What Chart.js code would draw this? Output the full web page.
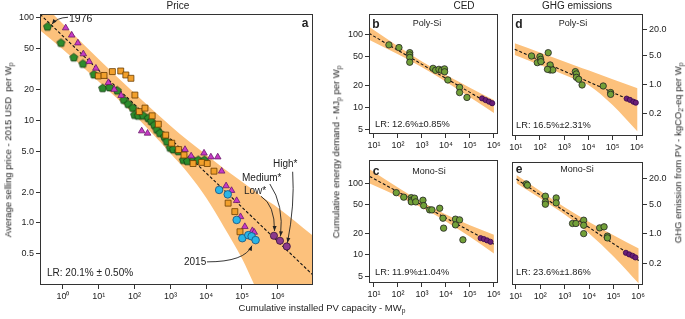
<!DOCTYPE html>
<html>
<head>
<meta charset="utf-8">
<script src="https://cdn.jsdelivr.net/npm/chart.js@4.4.0/dist/chart.umd.min.js"></script>
<style>
html, body { margin: 0; padding: 0; background: #fff; }
#wrap { position: relative; width: 685px; height: 319px; overflow: hidden;
        font-family: "Liberation Sans", Arial, Helvetica, sans-serif; color: #222; }
#wrap canvas { position: absolute; left: 0; top: 0; }
.t { position: absolute; white-space: nowrap; line-height: 1; z-index: 5; }
.c { transform: translate(-50%, -50%); }
.l { transform: translateY(-50%); }
.v { transform: translate(-50%, -50%) rotate(-90deg); }
.b { font-weight: bold; font-size: 12px; }
sub { font-size: 70%; vertical-align: -0.3em; line-height: 0; }
</style>
</head>
<body>
<div id="wrap">
  <canvas id="pa" width="685" height="319"></canvas>
  <canvas id="pb" width="685" height="319"></canvas>
  <canvas id="pc" width="685" height="319"></canvas>
  <canvas id="pd" width="685" height="319"></canvas>
  <canvas id="pe" width="685" height="319"></canvas>

  <div class="t c" style="left:178px;top:6px;font-size:10px">Price</div>
  <div class="t c" style="left:464px;top:6px;font-size:10px">CED</div>
  <div class="t c" style="left:577px;top:6px;font-size:10px">GHG emissions</div>

  <div class="t c b" style="left:305px;top:23px">a</div>
  <div class="t c b" style="left:376px;top:24px">b</div>
  <div class="t c b" style="left:376px;top:171px">c</div>
  <div class="t c b" style="left:519px;top:24px">d</div>
  <div class="t c b" style="left:519px;top:169px">e</div>

  <div class="t c" style="left:427px;top:23px;font-size:9px">Poly-Si</div>
  <div class="t c" style="left:429px;top:171px;font-size:9px">Mono-Si</div>
  <div class="t c" style="left:573px;top:23px;font-size:9px">Poly-Si</div>
  <div class="t c" style="left:577px;top:169px;font-size:9px">Mono-Si</div>

  <div class="t l" style="left:47px;top:273px;font-size:10px">LR: 20.1% ± 0.50%</div>
  <div class="t l" style="left:375px;top:125px;font-size:9.3px">LR: 12.6%±0.85%</div>
  <div class="t l" style="left:375px;top:273px;font-size:9.3px">LR: 11.9%±1.04%</div>
  <div class="t l" style="left:516px;top:126px;font-size:9.3px">LR: 16.5%±2.31%</div>
  <div class="t l" style="left:516px;top:273px;font-size:9.3px">LR: 23.6%±1.86%</div>

  <div class="t l" style="left:69px;top:18px;font-size:10.5px">1976</div>
  <div class="t l" style="left:273px;top:164px;font-size:10px">High*</div>
  <div class="t l" style="left:242px;top:178px;font-size:10px">Medium*</div>
  <div class="t l" style="left:244px;top:191px;font-size:10px">Low*</div>
  <div class="t l" style="left:184px;top:262px;font-size:10px">2015</div>

  <div class="t c" style="left:322px;top:308px;font-size:9.5px">Cumulative installed PV capacity - MW<sub>p</sub></div>
  <div class="t v" style="left:8px;top:150px;font-size:9.5px">Average selling price - 2015 USD&nbsp; per W<sub>p</sub></div>
  <div class="t v" style="left:336px;top:152px;font-size:9.5px">Cumulative energy demand - MJ<sub>p</sub> per W<sub>p</sub></div>
  <div class="t v" style="left:678px;top:153px;font-size:9.5px">GHG emission from PV - kgCO<sub>2</sub>-eq per W<sub>p</sub></div>
</div>

<script>
const FONT = '"Liberation Sans", Arial, Helvetica, sans-serif';
Chart.defaults.font.family = FONT;
Chart.defaults.color = '#222';

// ---------- panel a: average selling price vs cumulative capacity (MW, USD/Wp)
const greenCap = [0.37, 0.88, 2.0, 3.6, 7.3, 12.8, 20, 33, 50, 66, 89, 100, 126, 174, 240, 290, 355, 420, 510, 680, 800, 980, 1200, 1660, 2300, 3000, 4400, 6000, 8900];
const greenPrice = [82, 57, 41, 35.6, 28, 20.6, 21, 19.5, 15.8, 14.4, 13.2, 11.3, 11.1, 11.1, 10.5, 9.8, 9.0, 8.1, 7.5, 6.9, 6.2, 5.4, 5.2, 5.0, 4.1, 4.0, 4.05, 4.1, 4.1];
const magentaCap = [1.19, 1.75, 2.6, 3.7, 5.4, 8.3, 12.8, 18.5, 27, 42, 158, 230, 2560, 3800, 8700, 13500, 21000, 27000, 36000, 51000, 71000, 91000, 120000, 195000, 220000];
const magentaPrice = [80, 68, 57, 44.6, 37.5, 32.3, 27.2, 23.4, 20.1, 17.5, 7.9, 7.5, 5.2, 4.5, 4.8, 4.4, 4.4, 3.2, 2.3, 2.07, 1.65, 1.15, 0.92, 0.84, 0.81];
const orangeCap = [9.7, 14, 24, 41, 57, 79, 102, 135, 195, 310, 460, 740, 1090, 1700, 2400, 4300, 7500, 10700, 16500, 41000, 63000, 88000];
const orangePrice = [27.2, 27.5, 30, 30.4, 27.8, 25.8, 17.7, 12.2, 13.2, 11.1, 9.2, 7.2, 6.0, 5.2, 4.6, 3.8, 3.9, 3.8, 3.2, 1.56, 1.29, 0.82];
const cyanCap = [23000, 40000, 71000, 102000, 150000, 186000, 240000];
const cyanPrice = [2.1, 1.9, 1.07, 0.71, 0.76, 0.74, 0.68];
const scenarioCap = [780000, 1150000, 1780000];   // Low*, Medium*, High*
const scenarioPrice = [0.75, 0.67, 0.59];
const priceFitCap = [0.23, 9.6e6];
const priceFitVal = [108.6, 0.31];
const priceBandCap = [0.2, 1, 10, 100, 1000, 3162, 1e4, 31623, 1e5, 2.5e5, 4e5, 1e6, 1e7];
const priceBandHi = [153, 87.5, 39.6, 18.4, 8.9, 6.35, 4.63, 3.38, 2.52, 1.99, 1.75, 1.41, 0.74];
const priceBandLo = [78.7, 49.2, 23.9, 11.3, 4.79, 3.04, 1.76, 0.91, 0.449, 0.228, 0.17, 0.066, 0.01];

// ---------- panel b: CED poly-Si (MJ/Wp)
const cedPolyCap = [42, 110, 310, 310, 310, 310, 2900, 3700, 5100, 6600, 8700, 8800, 12000, 37000, 37000, 75000];
const cedPolyVal = [73, 67, 57, 53, 49, 42, 34.6, 32.5, 33.5, 32.5, 34, 31, 23.9, 18.9, 16, 13.7];
const cedPolyFutCap = [3.2e5, 4.5e5, 6.2e5, 8.5e5];
const cedPolyFutVal = [13.3, 12.6, 12, 11.4];
const cedPolyFitCap = [6.17, 1e6];
const cedPolyFitVal = [105.4, 10.3];
const cedPolyBandCap = [6.17, 100, 1000, 3162, 1e4, 1e5, 1e6];
const cedPolyBandHi = [129.7, 69.7, 43.1, 34.4, 27.9, 18.7, 12.6];
const cedPolyBandLo = [85.7, 54.1, 35.8, 28.6, 22.6, 13.8, 8.36];

// ---------- panel c: CED mono-Si
const cedMonoCap = [85, 174, 360, 360, 360, 490, 550, 1100, 1180, 2100, 2600, 5500, 7500, 8000, 25000, 25000, 37000, 51000];
const cedMonoVal = [74, 64, 63, 58, 55, 62, 55, 58, 48.8, 42.5, 42.5, 44.8, 32.5, 23.6, 31.5, 26.2, 30.8, 16.2];
const cedMonoFutCap = [2.8e5, 3.8e5, 5.2e5, 7.2e5];
const cedMonoFutVal = [17.1, 16.6, 15.9, 15.2];
const cedMonoFitCap = [6.6, 1e6];
const cedMonoFitVal = [125, 14.1];
const cedMonoBandCap = [6.6, 100, 1000, 3162, 1e4, 1e5, 1e6];
const cedMonoBandHi = [157, 87.3, 54.7, 44.3, 36.7, 25.8, 19.0];
const cedMonoBandLo = [99.3, 66.2, 45.5, 36.8, 29.2, 17.9, 10.4];

// ---------- panel d: GHG poly-Si (kgCO2-eq/Wp)
const ghgPolyCap = [45, 78, 100, 107, 110, 220, 265, 265, 340, 205, 2900, 3200, 3200, 4000, 5500, 41000, 83000, 83000];
const ghgPolyVal = [4.75, 3.29, 4.58, 3.95, 3.47, 5.7, 2.89, 2.19, 2.19, 2.27, 2.0, 1.76, 1.46, 1.31, 0.957, 0.905, 0.63, 0.57];
const ghgPolyFutCap = [3.8e5, 5.2e5, 7.2e5, 9.1e5];
const ghgPolyFutVal = [0.45, 0.42, 0.38, 0.36];
const ghgPolyFitCap = [9.1, 1.07e6];
const ghgPolyFitVal = [6.87, 0.346];
const ghgPolyBandCap = [9.1, 100, 1000, 3162, 1e4, 1e5, 1.07e6];
const ghgPolyBandHi = [9.57, 5.74, 3.52, 2.75, 2.15, 1.32, 0.796];
const ghgPolyBandLo = [5.02, 2.88, 1.68, 1.28, 0.955, 0.316, 0.0726];

// ---------- panel e: GHG mono-Si
const ghgMonoCap = [27, 30, 163, 163, 163, 450, 450, 2100, 2900, 6000, 6000, 6000, 27000, 41000, 56000, 56000];
const ghgMonoVal = [15, 14, 7.7, 5.65, 4.98, 7.0, 5.35, 1.75, 1.75, 2.09, 1.59, 1.01, 1.38, 1.46, 0.88, 0.80];
const ghgMonoFutCap = [3.2e5, 4.4e5, 6.0e5, 7.8e5];
const ghgMonoFutVal = [0.356, 0.326, 0.303, 0.277];
const ghgMonoFitCap = [10.7, 1.07e6];
const ghgMonoFitVal = [19.5, 0.234];
const ghgMonoBandCap = [10.7, 100, 1000, 1e4, 1e5, 1.07e6];
const ghgMonoBandHi = [24.5, 10.2, 4.2, 1.90, 0.923, 0.451];
const ghgMonoBandLo = [15.5, 6.87, 2.84, 1.02, 0.292, 0.0675];

// ---------- ticks
const xTicksA = [1, 10, 100, 1e3, 1e4, 1e5, 1e6];
const xLabelsA = ['10⁰', '10¹', '10²', '10³', '10⁴', '10⁵', '10⁶'];
const yTicksA = [0.5, 1, 2, 5, 10, 20, 50, 100];
const yLabelsA = ['0.5', '1.0', '2.0', '5.0', '10', '20', '50', '100'];
const xTicksS = [10, 100, 1e3, 1e4, 1e5, 1e6];
const xLabelsS = ['10¹', '10²', '10³', '10⁴', '10⁵', '10⁶'];
const yTicksCed = [5, 10, 20, 50, 100];
const yLabelsCed = ['5', '10', '20', '50', '100'];
const yTicksGhg = [0.2, 1, 5, 20];
const yLabelsGhg = ['0.2', '1.0', '5.0', '20.0'];

// arrows in panel a: [start, control, end] in data units
const arrowPaths = [
    [[1.38, 101.6], [0.68, 101], [0.49, 87]],          // 1976
    [[2.6e6, 3.16], [3.0e6, 1.5], [1.86e6, 0.64]],     // High*
    [[6.0e5, 2.4], [1.5e6, 1.5], [1.19e6, 0.74]],      // Medium*
    [[3.4e5, 1.82], [8.3e5, 1.5], [8.1e5, 0.835]],     // Low*
    [[1.05e4, 0.417], [1.2e5, 0.417], [1.9e5, 0.6]]    // 2015
];

const BAND = 'rgb(252,193,124)';
const zip = (xs, ys) => xs.map((x, i) => ({ x, y: ys[i] }));

function pentagon(r, fill, stroke) {
    const c = document.createElement('canvas');
    const s = Math.ceil(r * 2 + 2);
    c.width = s; c.height = s;
    const g = c.getContext('2d');
    g.beginPath();
    for (let i = 0; i < 5; i++) {
        const a = -Math.PI / 2 + i * 2 * Math.PI / 5;
        g.lineTo(s / 2 + r * Math.cos(a), s / 2 + r * Math.sin(a));
    }
    g.closePath();
    g.fillStyle = fill; g.fill();
    g.lineWidth = 0.8; g.strokeStyle = stroke; g.stroke();
    return c;
}

function pts(xs, ys, style, radius, fill, stroke) {
    return { data: zip(xs, ys), pointStyle: style, pointRadius: radius,
             pointBackgroundColor: fill, pointBorderColor: stroke, pointBorderWidth: 0.8 };
}
function fitLine(xs, ys) {
    return { type: 'line', data: zip(xs, ys), borderColor: '#111', borderWidth: 1.1,
             borderDash: [3, 2], pointRadius: 0, fill: false };
}
function band(xs, lo, hi) {
    return [
        { type: 'line', data: zip(xs, lo), borderColor: 'rgba(0,0,0,0)', borderWidth: 0,
          pointRadius: 0, fill: false, cubicInterpolationMode: 'monotone' },
        { type: 'line', data: zip(xs, hi), borderColor: 'rgba(0,0,0,0)', borderWidth: 0,
          pointRadius: 0, fill: '-1', backgroundColor: BAND, cubicInterpolationMode: 'monotone' }
    ];
}

function logAxis(pos, min, max, ticks, labels, size) {
    return {
        type: 'logarithmic', position: pos, min, max,
        afterBuildTicks: s => { s.ticks = ticks.map(v => ({ value: v })); },
        afterFit: s => { if (pos === 'bottom') s.height = size; else s.width = size; },
        ticks: { autoSkip: false, maxRotation: 0, minRotation: 0, padding: 2, color: '#222',
                 font: { size: 9 }, callback: (v, i) => labels[i] },
        grid: { drawOnChartArea: false, tickLength: 4, color: '#333', lineWidth: 1 },
        border: { display: false }
    };
}

const framePlugin = {
    id: 'frame',
    afterDraw(chart) {
        const { ctx, chartArea: a } = chart;
        ctx.save();
        ctx.strokeStyle = '#333';
        ctx.lineWidth = 1;
        ctx.strokeRect(Math.round(a.left) + 0.5, Math.round(a.top) + 0.5,
                       Math.round(a.right - a.left) - 1, Math.round(a.bottom - a.top) - 1);
        ctx.restore();
    }
};

const arrowPlugin = {
    id: 'arrows',
    afterDatasetsDraw(chart) {
        const { ctx, scales: { x, y } } = chart;
        ctx.save();
        ctx.strokeStyle = '#222';
        ctx.fillStyle = '#222';
        ctx.lineWidth = 0.9;
        arrowPaths.forEach(p => {
            const [s, c, e] = p.map(q => [x.getPixelForValue(q[0]), y.getPixelForValue(q[1])]);
            ctx.beginPath();
            ctx.moveTo(s[0], s[1]);
            ctx.quadraticCurveTo(c[0], c[1], e[0], e[1]);
            ctx.stroke();
            const ang = Math.atan2(e[1] - c[1], e[0] - c[0]);
            const L = 5, W = 2;
            ctx.beginPath();
            ctx.moveTo(e[0], e[1]);
            ctx.lineTo(e[0] - L * Math.cos(ang) + W * Math.sin(ang), e[1] - L * Math.sin(ang) - W * Math.cos(ang));
            ctx.lineTo(e[0] - L * Math.cos(ang) - W * Math.sin(ang), e[1] - L * Math.sin(ang) + W * Math.cos(ang));
            ctx.closePath();
            ctx.fill();
        });
        ctx.restore();
    }
};

// box = plot frame in page pixels; yPos = side of the value axis
function panel(id, box, xAxis, yAxis, yPos, datasets, extra) {
    const ySize = 30, xSize = 20;
    const padding = {
        left: box.left - (yPos === 'left' ? ySize : 0),
        right: 685 - box.right - (yPos === 'right' ? ySize : 0),
        top: box.top,
        bottom: 319 - box.bottom - xSize
    };
    return new Chart(document.getElementById(id), {
        type: 'scatter',
        data: { datasets },
        options: {
            responsive: false, animation: false, events: [], devicePixelRatio: 1,
            layout: { padding },
            plugins: { legend: { display: false }, tooltip: { enabled: false } },
            scales: {
                x: logAxis('bottom', xAxis[0], xAxis[1], xAxis[2], xAxis[3], xSize),
                y: logAxis(yPos, yAxis[0], yAxis[1], yAxis[2], yAxis[3], ySize)
            }
        },
        plugins: [framePlugin].concat(extra || [])
    });
}

const PENT = pentagon(4.2, '#2c8c2c', '#143814');
const GREEN_S = '#72a038', PURPLE_S = '#6a1f78';

panel('pa', { left: 40, top: 14, right: 313, bottom: 285 },
    [0.228, 9.62e6, xTicksA, xLabelsA], [0.248, 109.4, yTicksA, yLabelsA], 'left', [
    pts(scenarioCap, scenarioPrice, 'circle', 3.6, '#8c3a8c', '#3a103a'),
    pts(cyanCap, cyanPrice, 'circle', 3.8, '#2bb5e6', '#1b4d78'),
    pts(orangeCap, orangePrice, 'rect', 4.2, '#f2a02c', '#6b3e00'),
    pts(magentaCap, magentaPrice, 'triangle', 3.8, '#c63ac6', '#6a1a6a'),
    pts(greenCap, greenPrice, PENT, 4, '#2c8c2c', '#143814'),
    fitLine(priceFitCap, priceFitVal),
    ...band(priceBandCap, priceBandLo, priceBandHi)
], [arrowPlugin]);

panel('pb', { left: 369, top: 14, right: 498, bottom: 134 },
    [6.2, 1.48e6, xTicksS, xLabelsS], [4.28, 195, yTicksCed, yLabelsCed], 'left', [
    pts(cedPolyFutCap, cedPolyFutVal, 'circle', 2.6, PURPLE_S, '#3a0a4a'),
    pts(cedPolyCap, cedPolyVal, 'circle', 3.2, GREEN_S, '#222'),
    fitLine(cedPolyFitCap, cedPolyFitVal),
    ...band(cedPolyBandCap, cedPolyBandLo, cedPolyBandHi)
]);

panel('pc', { left: 369, top: 160, right: 498, bottom: 283 },
    [6.2, 1.48e6, xTicksS, xLabelsS], [4.03, 212, yTicksCed, yLabelsCed], 'left', [
    pts(cedMonoFutCap, cedMonoFutVal, 'circle', 2.6, PURPLE_S, '#3a0a4a'),
    pts(cedMonoCap, cedMonoVal, 'circle', 3.2, GREEN_S, '#222'),
    fitLine(cedMonoFitCap, cedMonoFitVal),
    ...band(cedMonoBandCap, cedMonoBandLo, cedMonoBandHi)
]);

panel('pd', { left: 512, top: 14, right: 643, bottom: 136 },
    [7.03, 1.8e6, xTicksS, xLabelsS], [0.057, 48.4, yTicksGhg, yLabelsGhg], 'right', [
    pts(ghgPolyFutCap, ghgPolyFutVal, 'circle', 2.6, PURPLE_S, '#3a0a4a'),
    pts(ghgPolyCap, ghgPolyVal, 'circle', 3.2, GREEN_S, '#222'),
    fitLine(ghgPolyFitCap, ghgPolyFitVal),
    ...band(ghgPolyBandCap, ghgPolyBandLo, ghgPolyBandHi)
]);

panel('pe', { left: 512, top: 162, right: 643, bottom: 285 },
    [7.03, 1.6e6, xTicksS, xLabelsS], [0.062, 49.3, yTicksGhg, yLabelsGhg], 'right', [
    pts(ghgMonoFutCap, ghgMonoFutVal, 'circle', 2.6, PURPLE_S, '#3a0a4a'),
    pts(ghgMonoCap, ghgMonoVal, 'circle', 3.2, GREEN_S, '#222'),
    fitLine(ghgMonoFitCap, ghgMonoFitVal),
    ...band(ghgMonoBandCap, ghgMonoBandLo, ghgMonoBandHi)
]);
</script>
</body>
</html>
